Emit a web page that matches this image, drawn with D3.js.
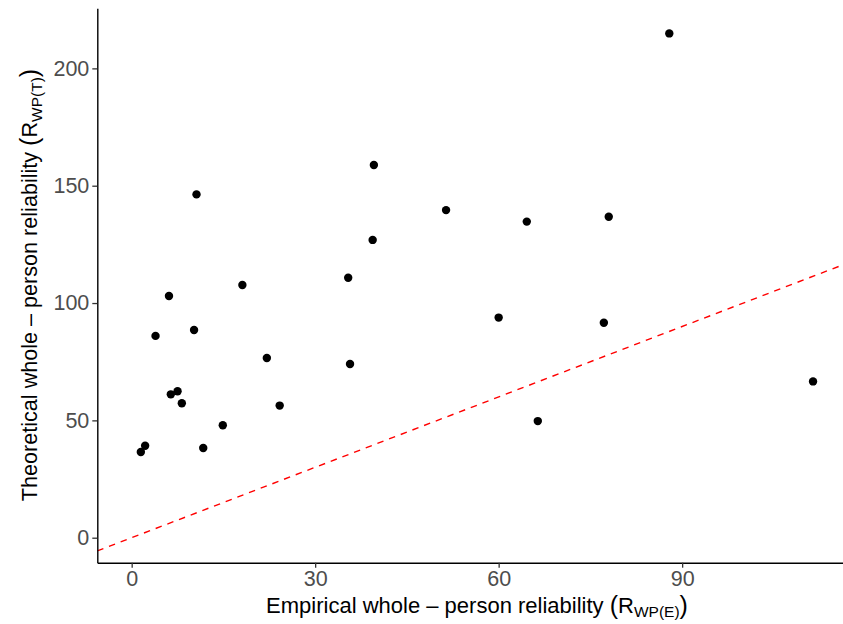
<!DOCTYPE html>
<html>
<head>
<meta charset="utf-8">
<script src="https://cdn.jsdelivr.net/npm/d3@7"></script>
<style>
  html, body { margin: 0; padding: 0; background: #fff; }
  svg { display: block; font-family: "Liberation Sans", Arial, sans-serif; }
</style>
</head>
<body>
<svg id="chart" width="843" height="624"></svg>
<script>
// Data
const empirical = [39.6, 10.6, 39.4, 35.4, 18.1, 6.1, 3.9, 10.2, 22.1, 35.7, 6.4, 7.5, 8.2, 24.2, 14.9, 11.7, 2.2, 1.5, 87.9, 51.4, 64.6, 78.0, 60.0, 77.2, 66.4, 111.4];
const theoretical = [158.8, 146.3, 126.9, 110.8, 107.7, 103.0, 86.0, 88.5, 76.6, 74.0, 61.1, 62.4, 57.3, 56.3, 47.9, 38.2, 39.2, 36.5, 214.9, 139.6, 134.7, 136.8, 93.8, 91.6, 49.7, 66.6];
const xTicks = [0, 30, 60, 90];
const yTicks = [0, 50, 100, 150, 200];
const xDomain = [-5.62, 116.3];
const yDomain = [-10.65, 225.6];
const identityLine = [xDomain[0], xDomain[1]]; // y = x reference line

const svg = d3.select("#chart");
const panel = { left: 97.3, right: 843, top: 8.3, bottom: 562.7 };

const x = d3.scaleLinear().domain(xDomain).range([panel.left, panel.right]);
const y = d3.scaleLinear().domain(yDomain).range([panel.bottom, panel.top]);

svg.append("defs").append("clipPath").attr("id", "clip")
  .append("rect")
  .attr("x", panel.left).attr("y", panel.top)
  .attr("width", panel.right - panel.left).attr("height", panel.bottom - panel.top);

// Points
const pts = empirical.map((e, i) => ({ e, t: theoretical[i] }));
svg.append("g").attr("clip-path", "url(#clip)")
  .selectAll("circle").data(pts).join("circle")
  .attr("cx", d => x(d.e)).attr("cy", d => y(d.t))
  .attr("r", 4.2).attr("fill", "#000");

// Identity dashed line
svg.append("g").attr("clip-path", "url(#clip)")
  .append("line")
  .attr("x1", x(identityLine[0])).attr("y1", y(identityLine[0]))
  .attr("x2", x(identityLine[1])).attr("y2", y(identityLine[1]))
  .attr("stroke", "#ff0000").attr("stroke-width", 1.4)
  .attr("stroke-dasharray", "6.5,6");

// Axes
const xAxis = svg.append("g")
  .attr("transform", `translate(0,${panel.bottom})`)
  .call(d3.axisBottom(x).tickValues(xTicks).tickSizeInner(5).tickSizeOuter(0).tickPadding(3));
const yAxis = svg.append("g")
  .attr("transform", `translate(${panel.left},0)`)
  .call(d3.axisLeft(y).tickValues(yTicks).tickSizeInner(5).tickSizeOuter(0).tickPadding(3));

[xAxis, yAxis].forEach(g => {
  g.attr("font-size", 21.5).attr("font-family", "Liberation Sans, Arial, sans-serif");
  g.select(".domain").attr("stroke", "#000").attr("stroke-width", 1.4);
  g.selectAll(".tick line").attr("stroke", "#333").attr("stroke-width", 1.3);
  g.selectAll(".tick text").attr("fill", "#4d4d4d").attr("font-size", 21.5);
});

// Axis titles with subscripts
function title(sel, main, sub) {
  sel.append("tspan").text(main);
  sel.append("tspan").text("(").attr("font-size", 25).attr("dy", "1");
  sel.append("tspan").text("R").attr("dy", "-1");
  sel.append("tspan").text(sub).attr("font-size", 15.5).attr("dy", "4.5");
  sel.append("tspan").text(")").attr("font-size", 25).attr("dy", "-3.5");
}

const xt = svg.append("text")
  .attr("x", 477).attr("y", 612.5)
  .attr("text-anchor", "middle")
  .attr("font-size", 22).attr("fill", "#000");
title(xt, "Empirical whole \u2013 person reliability ", "WP(E)");

const yt = svg.append("text")
  .attr("transform", `translate(37.3, 285) rotate(-90)`)
  .attr("text-anchor", "middle")
  .attr("font-size", 21.6).attr("fill", "#000");
title(yt, "Theoretical whole \u2013 person reliability ", "WP(T)");
</script>
</body>
</html>
